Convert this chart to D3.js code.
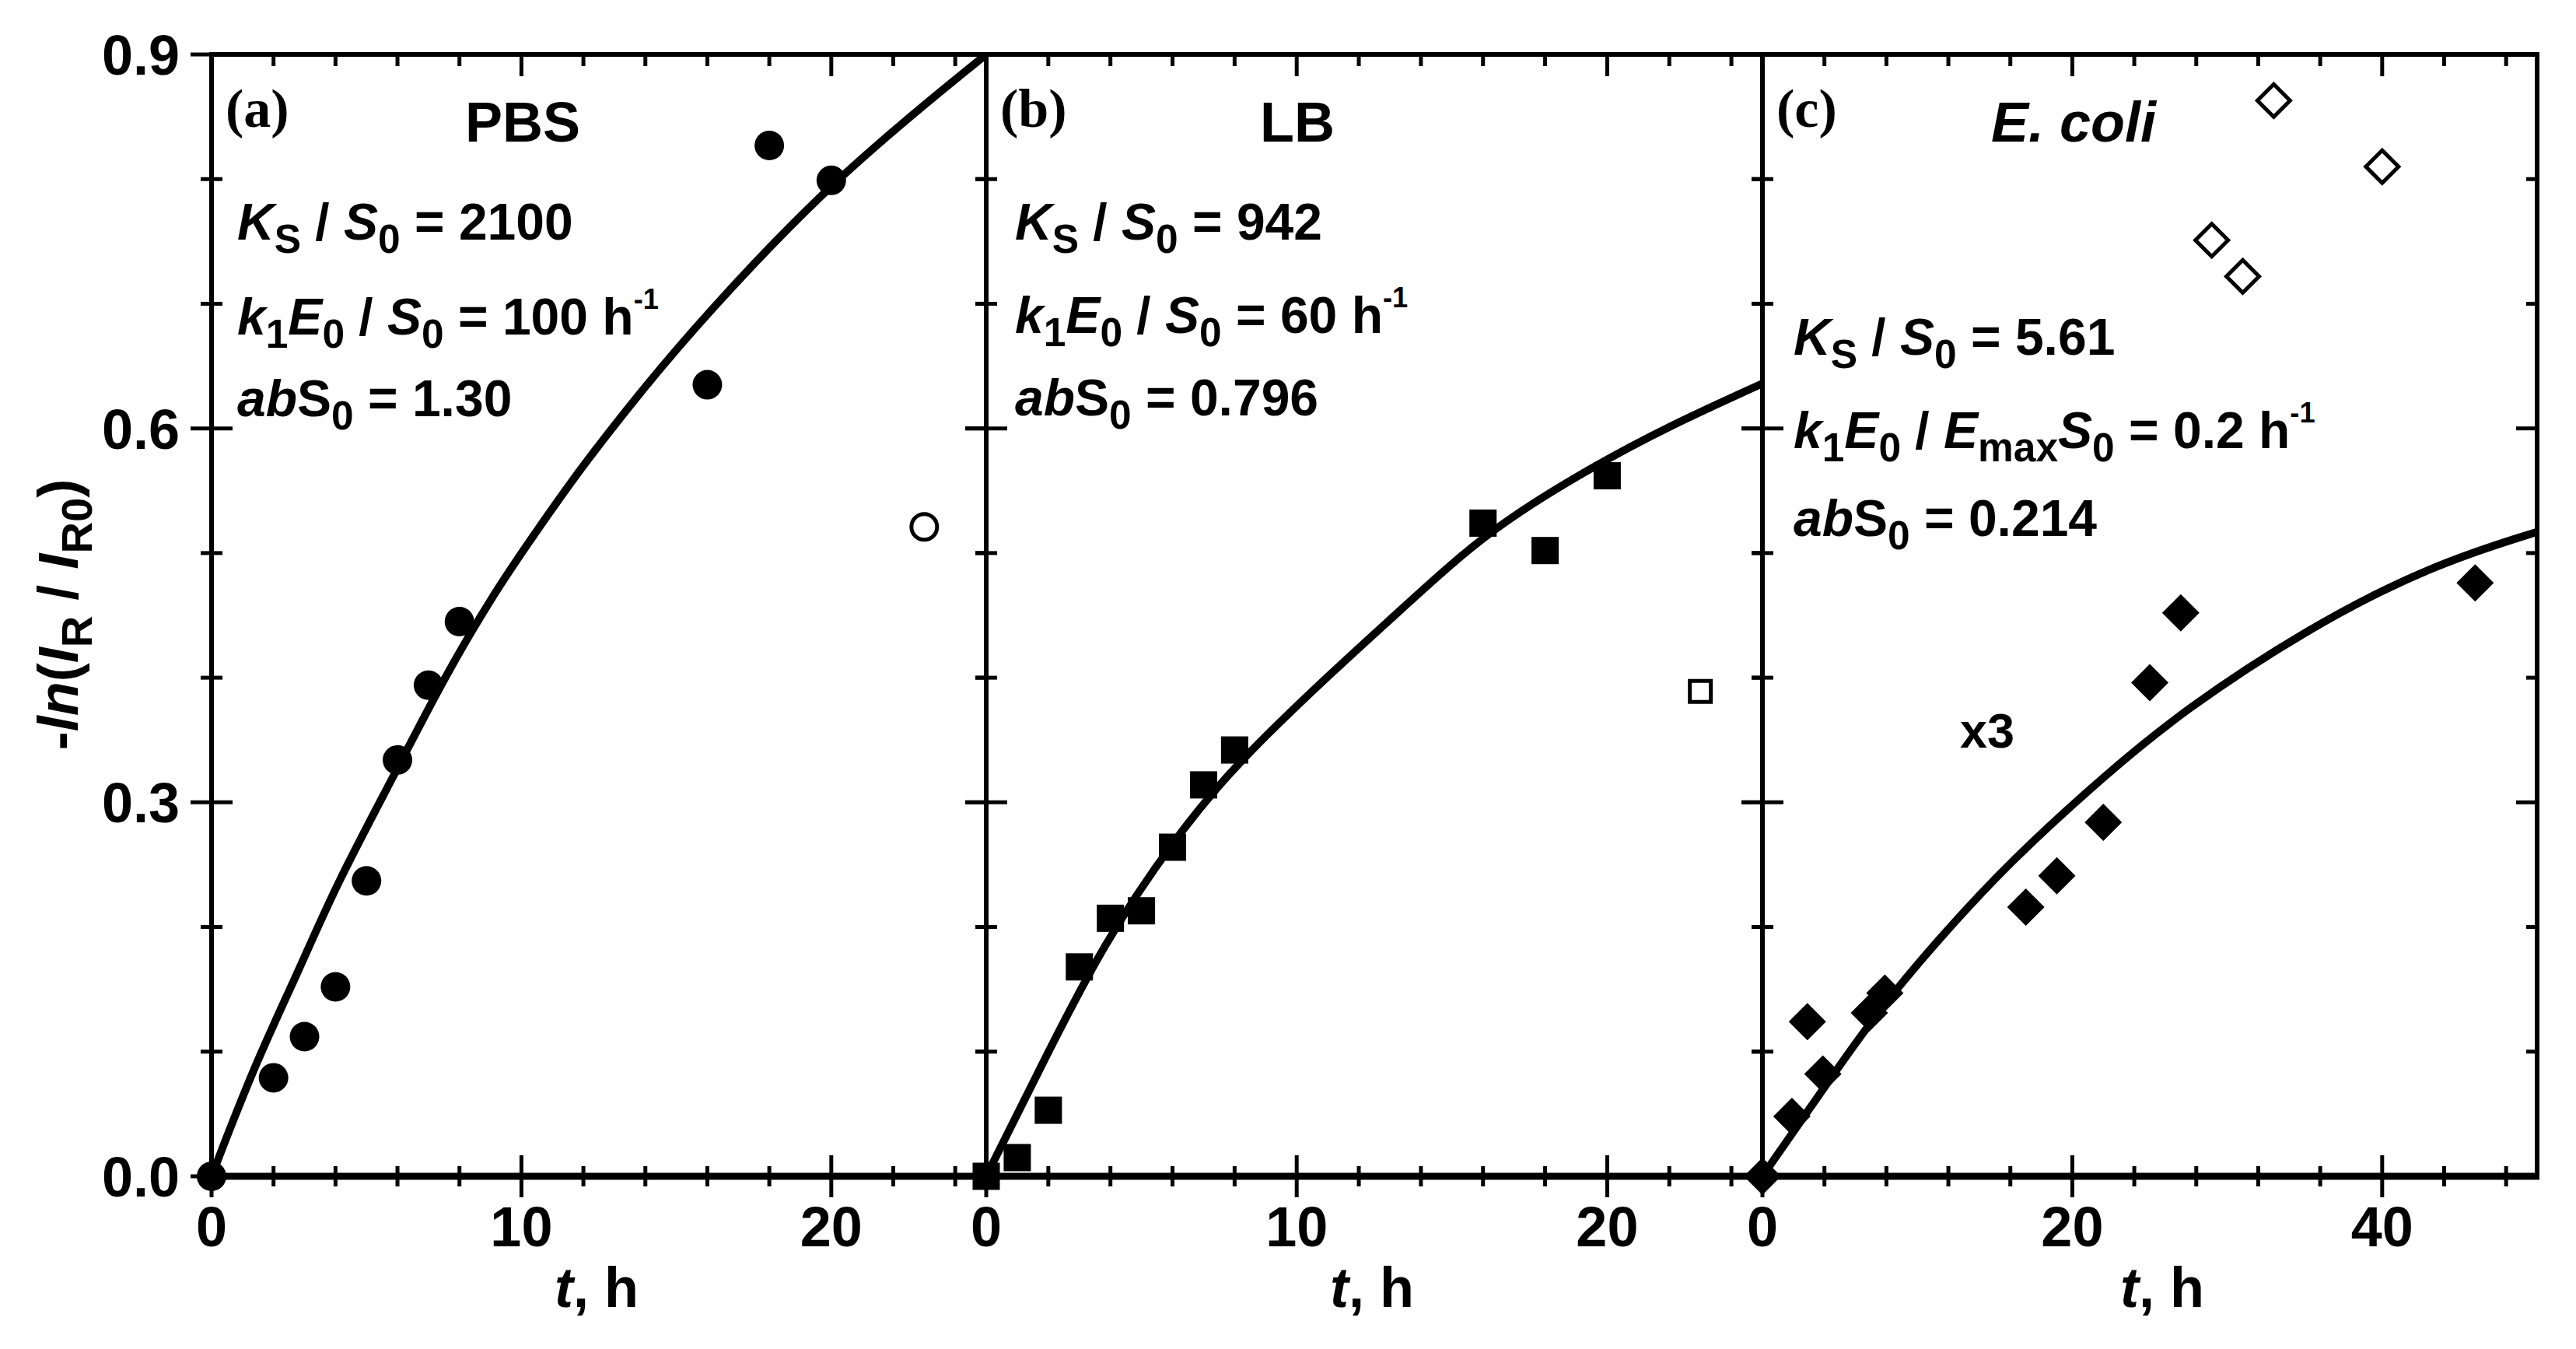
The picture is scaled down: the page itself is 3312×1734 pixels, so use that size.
<!DOCTYPE html>
<html><head><meta charset="utf-8">
<script src="https://cdn.jsdelivr.net/npm/d3@7"></script>
<style>html,body{margin:0;padding:0;background:#fff;} svg{display:block;}</style>
</head><body>
<script>
// ---------------- data ----------------
const panelTags = ["(a)", "(b)", "(c)"];
const mediaNames = ["PBS", "LB", "E. coli"];
const xMaxima = [25, 25, 50];
const xMajorTicks = [[0, 10, 20], [0, 10, 20], [0, 20, 40]];
const xMinorSteps = [2, 2, 4];
const yTickValues = [0, 0.3, 0.6, 0.9];
const yTickLabels = ["0.0", "0.3", "0.6", "0.9"];
const yMinorStep = 0.1;

// (a) PBS - filled circles, open circle, fit
const tA = [0, 2, 3, 4, 5, 6, 7, 8, 16, 18, 20];
const vA = [0, 0.079, 0.112, 0.152, 0.237, 0.334, 0.394, 0.445, 0.635, 0.827, 0.799];
const tAopen = [23];
const vAopen = [0.521];
const fitTA = [0, 1.4, 2.8, 4, 5.9, 7.5, 9.2, 10.25, 11.9, 14, 15.8, 20, 25];
const fitVA = [0, 0.09, 0.164, 0.233, 0.322, 0.40, 0.471, 0.509, 0.568, 0.634, 0.687, 0.799, 0.90];

// (b) LB - filled squares, open square, fit
const tB = [0, 1, 2, 3, 4, 5, 6, 7, 8, 16, 18, 20];
const vB = [0, 0.015, 0.053, 0.168, 0.207, 0.213, 0.264, 0.314, 0.342, 0.524, 0.502, 0.562];
const tBopen = [23];
const vBopen = [0.389];
const fitTB = [0, 1.8, 3.8, 6.1, 8, 11.2, 13.6, 16.2, 19.5, 22, 25];
const fitVB = [0, 0.09, 0.188, 0.272, 0.33, 0.406, 0.46, 0.519, 0.569, 0.602, 0.636];

// (c) E. coli - filled diamonds, open diamonds (x3), fit
const tC = [0, 1.9, 2.9, 3.9, 6.9, 7.9, 17, 19, 22, 25, 27, 46];
const vC = [0, 0.048, 0.124, 0.082, 0.131, 0.147, 0.216, 0.241, 0.284, 0.396, 0.452, 0.476];
const tCopen = [29, 31, 33, 40];
const vCopen = [0.751, 0.722, 0.863, 0.810];
const fitTC = [0, 1.9, 4.15, 7.3, 11.2, 16, 22.4, 27.1, 35.1, 43.1, 50];
const fitVC = [0, 0.034, 0.074, 0.13, 0.188, 0.253, 0.325, 0.373, 0.439, 0.49, 0.517];

// parameter text lines: segments [text, style]
const paramsA = [
  [["K", "i"], ["S", "sub"], [" / ", ""], ["S", "i"], ["0", "sub"], [" = 2100", ""]],
  [["k", "i"], ["1", "sub"], ["E", "i"], ["0", "sub"], [" / ", ""], ["S", "i"], ["0", "sub"], [" = 100 h", ""], ["-1", "sup"]],
  [["ab", "i"], ["S", ""], ["0", "sub"], [" = 1.30", ""]]
];
const paramsB = [
  [["K", "i"], ["S", "sub"], [" / ", ""], ["S", "i"], ["0", "sub"], [" = 942", ""]],
  [["k", "i"], ["1", "sub"], ["E", "i"], ["0", "sub"], [" / ", ""], ["S", "i"], ["0", "sub"], [" = 60 h", ""], ["-1", "sup"]],
  [["ab", "i"], ["S", ""], ["0", "sub"], [" = 0.796", ""]]
];
const paramsC = [
  [["K", "i"], ["S", "sub"], [" / ", ""], ["S", "i"], ["0", "sub"], [" = 5.61", ""]],
  [["k", "i"], ["1", "sub"], ["E", "i"], ["0", "sub"], [" / ", ""], ["E", "i"], ["max", "sub"], ["S", "i"], ["0", "sub"], [" = 0.2 h", ""], ["-1", "sup"]],
  [["ab", "i"], ["S", ""], ["0", "sub"], [" = 0.214", ""]]
];
const scaleNote = "x3";
const xAxisTitle = [["t", "i"], [", h", ""]];
const yAxisTitle = [["-", ""], ["ln", "i"], ["(", ""], ["I", "i"], ["R", "sub"], [" / ", ""], ["I", "i"], ["R0", "sub"], [")", ""]];

// ---------------- layout ----------------
const W = 3312, H = 1734;
const panelLeft = [272, 1268, 2266];
const panelRight = [1268, 2266, 3262];
const yTop = 70, yBottom = 1512;
const FONT = "'Liberation Sans', Arial, Helvetica, sans-serif";

const svg = d3.select("body").append("svg").attr("width", W).attr("height", H)
  .style("background", "#fff");

const y = d3.scaleLinear().domain([0, 0.9]).range([yBottom, yTop]);

function richText(g, segs, x, yb, size, opts = {}) {
  const t = g.append("text").attr("x", x).attr("y", yb)
    .attr("font-family", FONT).attr("font-weight", "bold")
    .attr("font-size", size).attr("fill", "#000");
  if (opts.anchor) t.attr("text-anchor", opts.anchor);
  if (opts.transform) t.attr("transform", opts.transform);
  let shift = 0;
  segs.forEach(([txt, st]) => {
    const ts = t.append("tspan").text(txt);
    let target = 0, fs = size;
    if (st === "sub") { target = size * 0.25; fs = size * 0.78; }
    else if (st === "sup") { target = -size * 0.5; fs = size * 0.55; }
    ts.attr("font-size", fs);
    if (st === "i") ts.attr("font-style", "italic");
    const dy = target - shift;
    if (dy !== 0) ts.attr("dy", dy);
    shift = target;
    ts.style("white-space", "pre");
  });
  t.style("white-space", "pre");
  return t;
}

const diamondType = {
  draw(ctx, size) {
    const r = Math.sqrt(size) / 2;
    ctx.moveTo(0, -r); ctx.lineTo(r, 0); ctx.lineTo(0, r); ctx.lineTo(-r, 0); ctx.closePath();
  }
};

const panels = [
  { fitT: fitTA, fitV: fitVA, t: tA, v: vA, to: tAopen, vo: vAopen, shape: "circle", params: paramsA, pBase: [308, 430, 535], pdx: 33 },
  { fitT: fitTB, fitV: fitVB, t: tB, v: vB, to: tBopen, vo: vBopen, shape: "square", params: paramsB, pBase: [308, 428, 534], pdx: 37 },
  { fitT: fitTC, fitV: fitVC, t: tC, v: vC, to: tCopen, vo: vCopen, shape: "diamond", params: paramsC, pBase: [456, 576, 689], pdx: 40 }
];

panels.forEach((p, i) => {
  const L = panelLeft[i], R = panelRight[i];
  const x = d3.scaleLinear().domain([0, xMaxima[i]]).range([L, R]);
  const g = svg.append("g");

  const cid = "clip" + i;
  svg.append("clipPath").attr("id", cid).append("rect")
    .attr("x", L).attr("y", yTop).attr("width", R - L).attr("height", yBottom - yTop);

  // fit curve
  const line = d3.line().x(d => x(d[0])).y(d => y(d[1])).curve(d3.curveBasis);
  g.append("path").datum(p.fitT.map((tt, k) => [tt, p.fitV[k]]))
    .attr("d", line).attr("fill", "none").attr("stroke", "#000")
    .attr("stroke-width", 10).attr("clip-path", `url(#${cid})`);

  // frame
  g.append("rect").attr("x", L).attr("y", yTop).attr("width", R - L).attr("height", yBottom - yTop)
    .attr("fill", "none").attr("stroke", "#000").attr("stroke-width", 6);
  g.append("line").attr("x1", L - 3).attr("x2", R + 3).attr("y1", yBottom).attr("y2", yBottom)
    .attr("stroke", "#000").attr("stroke-width", 9);

  // x ticks
  const minors = d3.range(0, xMaxima[i] + 1e-9, xMinorSteps[i]).filter(v => !xMajorTicks[i].includes(v) && v > 0 && v < xMaxima[i]);
  const tk = (x1, y1, x2, y2) => g.append("line").attr("x1", x1).attr("y1", y1).attr("x2", x2).attr("y2", y2)
    .attr("stroke", "#000").attr("stroke-width", 5);
  xMajorTicks[i].forEach(v => { tk(x(v), yBottom - 27, x(v), yBottom + 27); tk(x(v), yTop, x(v), yTop + 28); });
  minors.forEach(v => { tk(x(v), yBottom - 13, x(v), yBottom + 13); tk(x(v), yTop, x(v), yTop + 15); });

  // y ticks (left crossing, right inward)
  const yMinors = d3.range(0, 0.9001, yMinorStep).filter(v => !yTickValues.some(m => Math.abs(m - v) < 1e-6));
  yTickValues.forEach(v => { tk(L - 27, y(v), L + 27, y(v)); tk(R - 27, y(v), R, y(v)); });
  yMinors.forEach(v => { tk(L - 14, y(v), L + 14, y(v)); tk(R - 14, y(v), R, y(v)); });

  // x tick labels
  xMajorTicks[i].forEach(v => {
    g.append("text").attr("x", x(v)).attr("y", 1602).attr("text-anchor", "middle")
      .attr("font-family", FONT).attr("font-weight", "bold").attr("font-size", 72).text(v);
  });

  // x axis title
  richText(g, xAxisTitle, (L + R) / 2 + (i === 2 ? 16 : -3), 1680, 72, { anchor: "middle" });

  // panel tag
  g.append("text").attr("x", L + 18).attr("y", 163)
    .attr("font-family", "'Liberation Serif', 'Times New Roman', serif").attr("font-weight", "bold")
    .attr("font-size", 70).text(panelTags[i]);

  // medium
  g.append("text").attr("x", L + 400).attr("y", 182).attr("text-anchor", "middle")
    .attr("font-family", FONT).attr("font-weight", "bold").attr("font-style", i === 2 ? "italic" : "normal")
    .attr("font-size", 72).text(mediaNames[i]);

  // parameters
  p.params.forEach((segs, k) => richText(g, segs, L + p.pdx, p.pBase[k], 66));

  // markers
  const pts = p.t.map((tt, k) => [tt, p.v[k]]);
  const opts = p.to.map((tt, k) => [tt, p.vo[k]]);
  if (p.shape === "circle") {
    g.selectAll(null).data(pts).enter().append("circle")
      .attr("cx", d => x(d[0])).attr("cy", d => y(d[1])).attr("r", 19).attr("fill", "#000");
    g.selectAll(null).data(opts).enter().append("circle")
      .attr("cx", d => x(d[0])).attr("cy", d => y(d[1])).attr("r", 16.5)
      .attr("fill", "#fff").attr("stroke", "#000").attr("stroke-width", 5);
  } else if (p.shape === "square") {
    g.selectAll(null).data(pts).enter().append("rect")
      .attr("x", d => x(d[0]) - 17.5).attr("y", d => y(d[1]) - 17.5)
      .attr("width", 35).attr("height", 35).attr("fill", "#000");
    g.selectAll(null).data(opts).enter().append("rect")
      .attr("x", d => x(d[0]) - 13.5).attr("y", d => y(d[1]) - 13.5)
      .attr("width", 27).attr("height", 27)
      .attr("fill", "#fff").attr("stroke", "#000").attr("stroke-width", 5);
  } else {
    g.selectAll(null).data(pts).enter().append("path")
      .attr("transform", d => `translate(${x(d[0])},${y(d[1])})`)
      .attr("d", d3.symbol().type(diamondType).size(48 * 48)()).attr("fill", "#000");
    g.selectAll(null).data(opts).enter().append("path")
      .attr("transform", d => `translate(${x(d[0])},${y(d[1])})`)
      .attr("d", d3.symbol().type(diamondType).size(42 * 42)())
      .attr("fill", "#fff").attr("stroke", "#000").attr("stroke-width", 5).attr("stroke-linejoin", "miter");
    g.append("text").attr("x", L + 254).attr("y", 961)
      .attr("font-family", FONT).attr("font-weight", "bold").attr("font-size", 63).text(scaleNote);
  }
});

// y tick labels (left panel only)
yTickValues.forEach((v, k) => {
  svg.append("text").attr("x", 231).attr("y", y(v)).attr("dy", "0.36em").attr("text-anchor", "end")
    .attr("font-family", FONT).attr("font-weight", "bold").attr("font-size", 72).text(yTickLabels[k]);
});

// y axis title
richText(svg.append("g"), yAxisTitle, 0, 0, 72, { anchor: "middle", transform: "translate(100,790) rotate(-90)" });
</script>
</body></html>
